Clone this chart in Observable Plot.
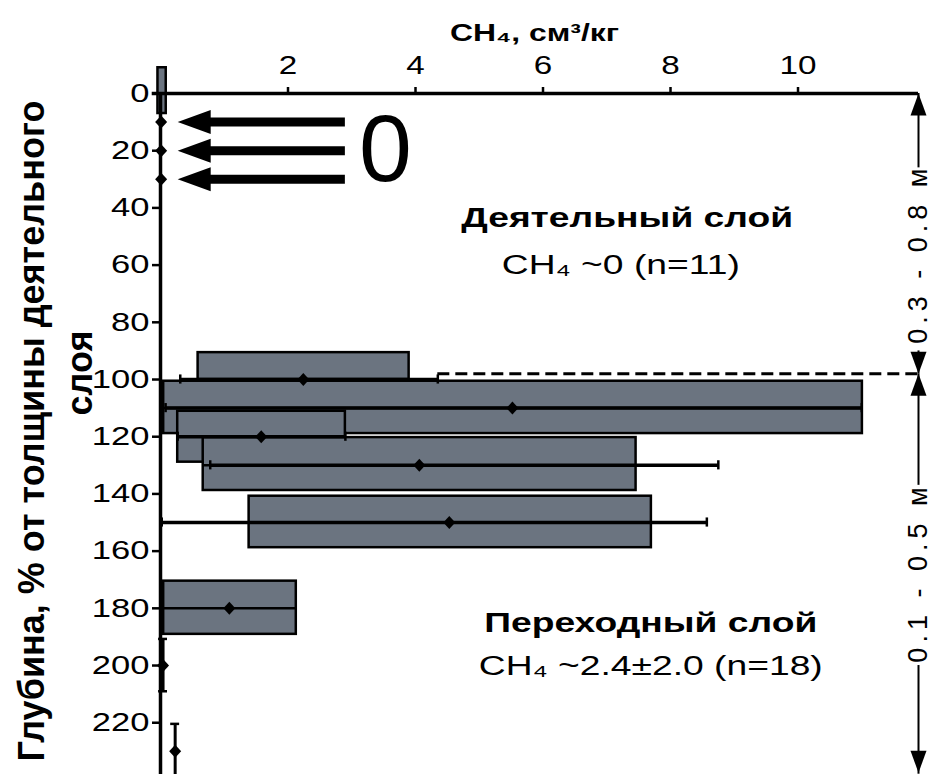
<!DOCTYPE html>
<html><head><meta charset="utf-8">
<script src="https://cdn.jsdelivr.net/npm/d3@7"></script>
<script src="https://cdn.jsdelivr.net/npm/@observablehq/plot@0.6"></script>
<style>body{margin:0;background:#fff} svg{display:block}</style>
</head><body><div id="chart"></div>
<script>
// ---- Data (depth in % of active-layer thickness, CH4 in cm3/kg) ----
const boxDepthTop    = [-9, 90.6, 100.6, 111.1, 120.3, 140.8, 170.5];
const boxDepthBottom = [7, 100, 118.9, 128.9, 138.8, 158.8, 189.1];
const boxLow         = [-0.04, 0.59, 0.05, 0.27, 0.67, 1.39, 0.05];
const boxHigh        = [0.09, 3.90, 11.01, 2.90, 7.46, 7.70, 2.13];
const boxMid         = [null, 100, 110, 120, 130, 150, 180];

const meanDepth = [10, 20, 30, 100, 110, 120, 130, 150, 180, 200, 230];
const meanValue = [0.01, 0.01, 0.01, 2.24, 5.52, 1.58, 4.06, 4.53, 1.08, 0.04, 0.23];

const errDepth = [100, 110, 120, 130, 150];
const errLow   = [0.31, 0.08, 0.27, 0.78, 0.02];
const errHigh  = [4.35, 11.0, 2.90, 8.75, 8.57];

const vErrValue = [0.04, 0.23];
const vErrLow   = [190.7, 220.4];
const vErrHigh  = [209, 245];

const arrowDepth = [10, 20, 30];
const arrowTail = 2.9, arrowTip = 0.27;

const xTicks = [2, 4, 6, 8, 10];
const yTicks = [0, 20, 40, 60, 80, 100, 120, 140, 160, 180, 200, 220];

const xMax = 11.89, yMax = 238.1;
const dividerDepth = 98, dashStart = 4.35;
const bracketSegments = [[0, 26], [90, 98], [98, 137], [200, 238]];
const bracketHeadsUp = [0, 98], bracketHeadsDown = [98, 237.5];
const bracketLabels = ["0.3 - 0.8 м", "0.1 - 0.5 м"];
const bracketLabelDepth = [56, 167.5];

const notes = [
  {text: "Деятельный слой", x: 7.32, y: 43.7, bold: true},
  {text: "CH₄ ~0 (n=11)", x: 7.22, y: 60.1, bold: false},
  {text: "Переходный слой", x: 7.69, y: 185, bold: true},
  {text: "CH₄ ~2.4±2.0 (n=18)", x: 7.69, y: 200.3, bold: false}
];

// ---- Symbols ----
const diamond = {draw(c){ c.moveTo(0,-6.5); c.lineTo(6,0); c.lineTo(0,6.5); c.lineTo(-6,0); c.closePath(); }};
const headLeft = {draw(c){ c.moveTo(0,0); c.lineTo(33,-12); c.lineTo(33,12); c.closePath(); }};
const headUp = {draw(c){ c.moveTo(0,0); c.lineTo(-8,22); c.lineTo(8,22); c.closePath(); }};
const headDown = {draw(c){ c.moveTo(0,0); c.lineTo(-8,-22); c.lineTo(8,-22); c.closePath(); }};

const boxIdx = d3.range(boxLow.length);
const midIdx = boxIdx.filter(i => boxMid[i] != null);
const errIdx = d3.range(errDepth.length);
const capsH = errIdx.flatMap(i => [{x: errLow[i], y: errDepth[i]}, {x: errHigh[i], y: errDepth[i]}]);
const vIdx = d3.range(vErrValue.length);
const capsV = vIdx.flatMap(i => [{x: vErrValue[i], y: vErrLow[i]}, {x: vErrValue[i], y: vErrHigh[i]}]);
const meanIdx = d3.range(meanDepth.length);

const chart = Plot.plot({
  width: 937, height: 774,
  marginLeft: 160, marginRight: 19, marginTop: 93, marginBottom: 0,
  style: {fontFamily: "'Liberation Sans', Arial, sans-serif", fontSize: "25px", color: "black", background: "white", overflow: "visible"},
  x: {domain: [0, xMax]},
  y: {domain: [0, yMax], reverse: true},
  marks: [
    Plot.rect(boxIdx, {x1: i => boxLow[i], x2: i => boxHigh[i], y1: i => boxDepthTop[i], y2: i => boxDepthBottom[i],
      fill: "#6b7480", stroke: "black", strokeWidth: 2.5}),
    Plot.ruleY(midIdx, {y: i => boxMid[i], x1: i => boxLow[i], x2: i => boxHigh[i], stroke: "black", strokeWidth: 2.5}),
    Plot.ruleY(errIdx, {y: i => errDepth[i], x1: i => errLow[i], x2: i => errHigh[i], stroke: "black", strokeWidth: 3.5}),
    Plot.ruleX(capsH, {x: "x", y1: d => d.y - 1.6, y2: d => d.y + 1.6, stroke: "black", strokeWidth: 2.5}),
    Plot.ruleX(vIdx, {x: i => vErrValue[i], y1: i => vErrLow[i], y2: i => Math.min(vErrHigh[i], yMax), stroke: "black", strokeWidth: 3}),
    Plot.ruleY(capsV.filter(d => d.y < yMax), {y: "y", x1: d => d.x - 0.07, x2: d => d.x + 0.07, stroke: "black", strokeWidth: 2.5}),
    // axis lines
    Plot.ruleX([0], {y1: 0, y2: yMax, stroke: "black", strokeWidth: 3.5}),
    Plot.ruleY([0], {x1: -0.13, x2: xMax, stroke: "black", strokeWidth: 3.5}),
    Plot.axisX({anchor: "top", ticks: xTicks, tickSize: 7, tickPadding: 13, strokeWidth: 2.5, label: null, fontSize: 25}),
    Plot.axisY({anchor: "left", ticks: yTicks, tickSize: 8, tickPadding: 3, strokeWidth: 2.5, label: null, fontSize: 26}),
    // means
    Plot.dot(meanIdx, {x: i => meanValue[i], y: i => meanDepth[i], symbol: diamond, fill: "black", stroke: null}),
    // zero arrows
    Plot.ruleY(arrowDepth, {y: d => d, x1: arrowTail, x2: arrowTip + 0.45, stroke: "black", strokeWidth: 9}),
    Plot.dot(arrowDepth, {x: arrowTip, y: d => d, symbol: headLeft, fill: "black", stroke: null}),
    Plot.text(["0"], {x: 3.53, y: 20, fontSize: 95, fill: "black"}),
    // right bracket
    Plot.ruleY([dividerDepth], {x1: dashStart, x2: xMax, stroke: "black", strokeWidth: 3, strokeDasharray: "12,6"}),
    Plot.ruleX(bracketSegments, {x: xMax, y1: d => d[0], y2: d => d[1], stroke: "black", strokeWidth: 2}),
    Plot.dot(bracketHeadsUp, {x: xMax, y: d => d, symbol: headUp, fill: "black", stroke: null}),
    Plot.dot(bracketHeadsDown, {x: xMax, y: d => d, symbol: headDown, fill: "black", stroke: null}),
    Plot.text(bracketLabels, {x: xMax, y: (d, i) => bracketLabelDepth[i], rotate: -90, fontSize: 27, fill: "black"}),
    // notes
    Plot.text(notes.filter(d => d.bold), {x: "x", y: "y", text: "text", fontSize: 28, fontWeight: "bold", fill: "black"}),
    Plot.text(notes.filter(d => !d.bold), {x: "x", y: "y", text: "text", fontSize: 28, fill: "black"}),
    // titles
    Plot.text(["CH₄, см³/кг"], {frameAnchor: "top", dx: -5, dy: -70, fontSize: 24, fontWeight: "bold", fill: "black"}),
    Plot.text(["Глубина, % от толщины деятельного"], {frameAnchor: "left", textAnchor: "middle", dx: -128, dy: -3, rotate: -90, fontSize: 36, fontWeight: "bold", fill: "black"}),
    Plot.text(["слоя"], {frameAnchor: "left", textAnchor: "middle", dx: -80, dy: -61, rotate: -90, fontSize: 36, fontWeight: "bold", fill: "black"})
  ]
});
document.getElementById("chart").append(chart);

// horizontal stretch of horizontal lettering to match the reference's wide glyphs
const S = 1.33;
chart.querySelectorAll("text").forEach(t => {
  if (t.closest('g[font-size="95"]')) return;
  const m = t.getCTM();
  const rotated = m && Math.abs(m.b) > 0.5;
  if (rotated) {
    if (bracketLabels.includes(t.textContent)) t.setAttribute("letter-spacing", "5");
    return;
  }
  const tr = t.getAttribute("transform") || "";
  let x = 0, y = 0;
  try { if (t.x.baseVal.numberOfItems) x = t.x.baseVal.getItem(0).value; } catch (e) {}
  try { if (t.y.baseVal.numberOfItems) y = t.y.baseVal.getItem(0).value; } catch (e) {}
  t.setAttribute("transform", `${tr} translate(${x},${y}) scale(${S},1) translate(${-x},${-y})`.trim());
});
</script>
</body></html>
